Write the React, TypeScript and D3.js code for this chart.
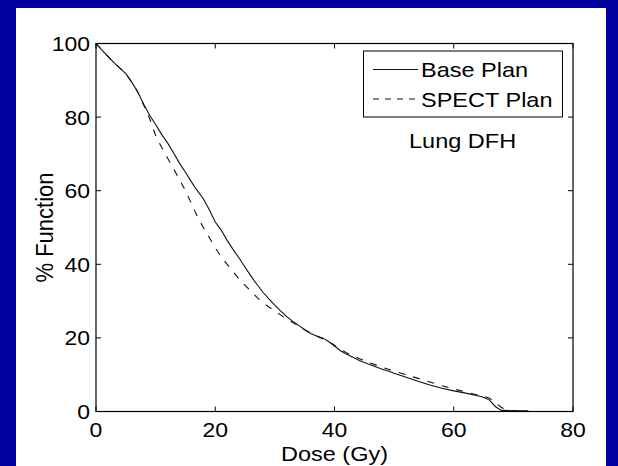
import React from 'react';
import * as d3 from 'd3';

// dose (Gy) sample points
const baseDose = [0, 1, 2, 3, 4, 5, 6, 7, 8, 9, 10, 11, 12, 13, 14, 15, 16, 17, 18, 19, 20, 21, 22, 23, 24, 25, 26, 27, 28, 29, 30, 31, 32, 33, 34, 35, 36, 37, 38, 39, 40, 41, 42, 43, 44, 45, 46, 47, 48, 49, 50, 52, 54, 56, 58, 60, 62, 64, 65, 66, 67, 68, 70, 72.5];
const baseFunc = [100, 98.2, 96.5, 94.8, 93.3, 91.8, 89.5, 86.8, 83.5, 80.5, 78.0, 75.3, 73.0, 70.3, 67.5, 65.0, 62.4, 60.0, 57.8, 54.8, 51.5, 49.3, 46.5, 44.0, 41.7, 39.2, 36.8, 34.5, 32.4, 30.6, 28.9, 27.3, 25.8, 24.5, 23.4, 22.2, 21.2, 20.5, 20.0, 19.0, 17.8, 16.5, 15.6, 14.8, 14.0, 13.3, 12.7, 12.1, 11.5, 11.0, 10.4, 9.3, 8.2, 7.2, 6.3, 5.6, 5.0, 4.3, 3.9, 3.1, 1.3, 0.3, 0.2, 0.2];

const spectDose = [0, 1, 2, 3, 4, 5, 6, 7, 8, 9, 10, 11, 12, 13, 14, 15, 16, 17, 18, 19, 20, 21, 22, 23, 24, 25, 26, 27, 28, 29, 30, 31, 32, 33, 34, 35, 36, 37, 38, 39, 40, 41, 42, 43, 44, 45, 46, 47, 48, 50, 52, 54, 56, 58, 60, 62, 64, 65, 66, 67, 68, 69, 70, 72];
const spectFunc = [100, 98.2, 96.5, 94.8, 93.3, 91.8, 89.5, 86.8, 83.3, 79.6, 75.0, 71.8, 68.9, 66.0, 63.0, 60.0, 56.5, 53.0, 50.0, 47.3, 44.5, 42.0, 40.0, 38.0, 36.0, 34.3, 32.7, 31.0, 29.6, 28.4, 27.3, 26.2, 25.1, 24.2, 23.2, 22.2, 21.3, 20.5, 19.8, 19.0, 18.0, 16.9, 16.0, 15.2, 14.5, 13.8, 13.2, 12.6, 12.0, 11.0, 10.0, 9.0, 8.0, 7.0, 6.1, 5.3, 4.5, 4.2, 3.6, 2.4, 1.1, 0.4, 0.2, 0.2];

const xTicks = [0, 20, 40, 60, 80];
const yTicks = [0, 20, 40, 60, 80, 100];
const seriesNames = ['Base Plan', 'SPECT Plan'];

const W = 618;
const H = 466;
const left = 96, right = 573, top = 43.5, bottom = 411.5;
const FONT = 'Liberation Sans, Arial, Helvetica, sans-serif';
const SX = 1.12; // text in the source is a bit wider than plain Arial

function Txt({ x, y, anchor = 'start', size = 21, children }: any) {
  return (
    <text transform={`translate(${x},${y}) scale(${SX},1)`} textAnchor={anchor}
      fontFamily={FONT} fontSize={size} fill="#000">{children}</text>
  );
}

export default function App() {
  const x = d3.scaleLinear().domain([0, 80]).range([left, right]);
  const y = d3.scaleLinear().domain([0, 100]).range([bottom, top]);

  const line = d3.line<[number, number]>().x(d => x(d[0])).y(d => y(d[1]));
  const basePts = baseDose.map((d, i) => [d, baseFunc[i]] as [number, number]);
  const spectPts = spectDose.map((d, i) => [d, spectFunc[i]] as [number, number]);

  const tl = 5;

  return (
    <svg width={W} height={H} style={{ position: 'absolute', left: 0, top: 0 }}>
      <rect x={0} y={0} width={W} height={H} fill="#00009c" />
      <rect x={16} y={8} width={590} height={H - 8} fill="#fff" />

      {/* curves */}
      <path d={line(spectPts) || ''} fill="none" stroke="#111" strokeWidth={1.1} strokeDasharray="7,8" />
      <path d={line(basePts) || ''} fill="none" stroke="#111" strokeWidth={1.1} />

      {/* box */}
      <rect x={left} y={top} width={right - left} height={bottom - top} fill="none" stroke="#000" strokeWidth={1.2} />

      {/* ticks, inward on all sides */}
      {xTicks.map(t => (
        <g key={'x' + t}>
          <line x1={x(t)} x2={x(t)} y1={bottom} y2={bottom - tl} stroke="#000" />
          <line x1={x(t)} x2={x(t)} y1={top} y2={top + tl} stroke="#000" />
          <Txt x={x(t)} y={437} anchor="middle" size={20.5}>{t}</Txt>
        </g>
      ))}
      {yTicks.map(t => (
        <g key={'y' + t}>
          <line x1={left} x2={left + tl} y1={y(t)} y2={y(t)} stroke="#000" />
          <line x1={right} x2={right - tl} y1={y(t)} y2={y(t)} stroke="#000" />
          <Txt x={90} y={y(t) + 7.5} anchor="end" size={20.5}>{t}</Txt>
        </g>
      ))}

      {/* axis labels */}
      <Txt x={(left + right) / 2} y={461} anchor="middle">Dose (Gy)</Txt>
      <text transform={`translate(53,${(top + bottom) / 2}) rotate(-90) scale(1,1.12)`} textAnchor="middle"
        fontFamily={FONT} fontSize={22} fill="#000">% Function</text>

      {/* legend */}
      <rect x={363.5} y={51} width={199} height={66} fill="#fff" stroke="#000" strokeWidth={1} />
      <line x1={373} x2={418} y1={69.5} y2={69.5} stroke="#111" strokeWidth={1} />
      <line x1={373} x2={418} y1={99} y2={99} stroke="#111" strokeWidth={1} strokeDasharray="6,6" />
      <Txt x={421} y={77}>{seriesNames[0]}</Txt>
      <Txt x={421} y={107}>{seriesNames[1]}</Txt>

      <Txt x={409} y={148}>Lung DFH</Txt>
    </svg>
  );
}
